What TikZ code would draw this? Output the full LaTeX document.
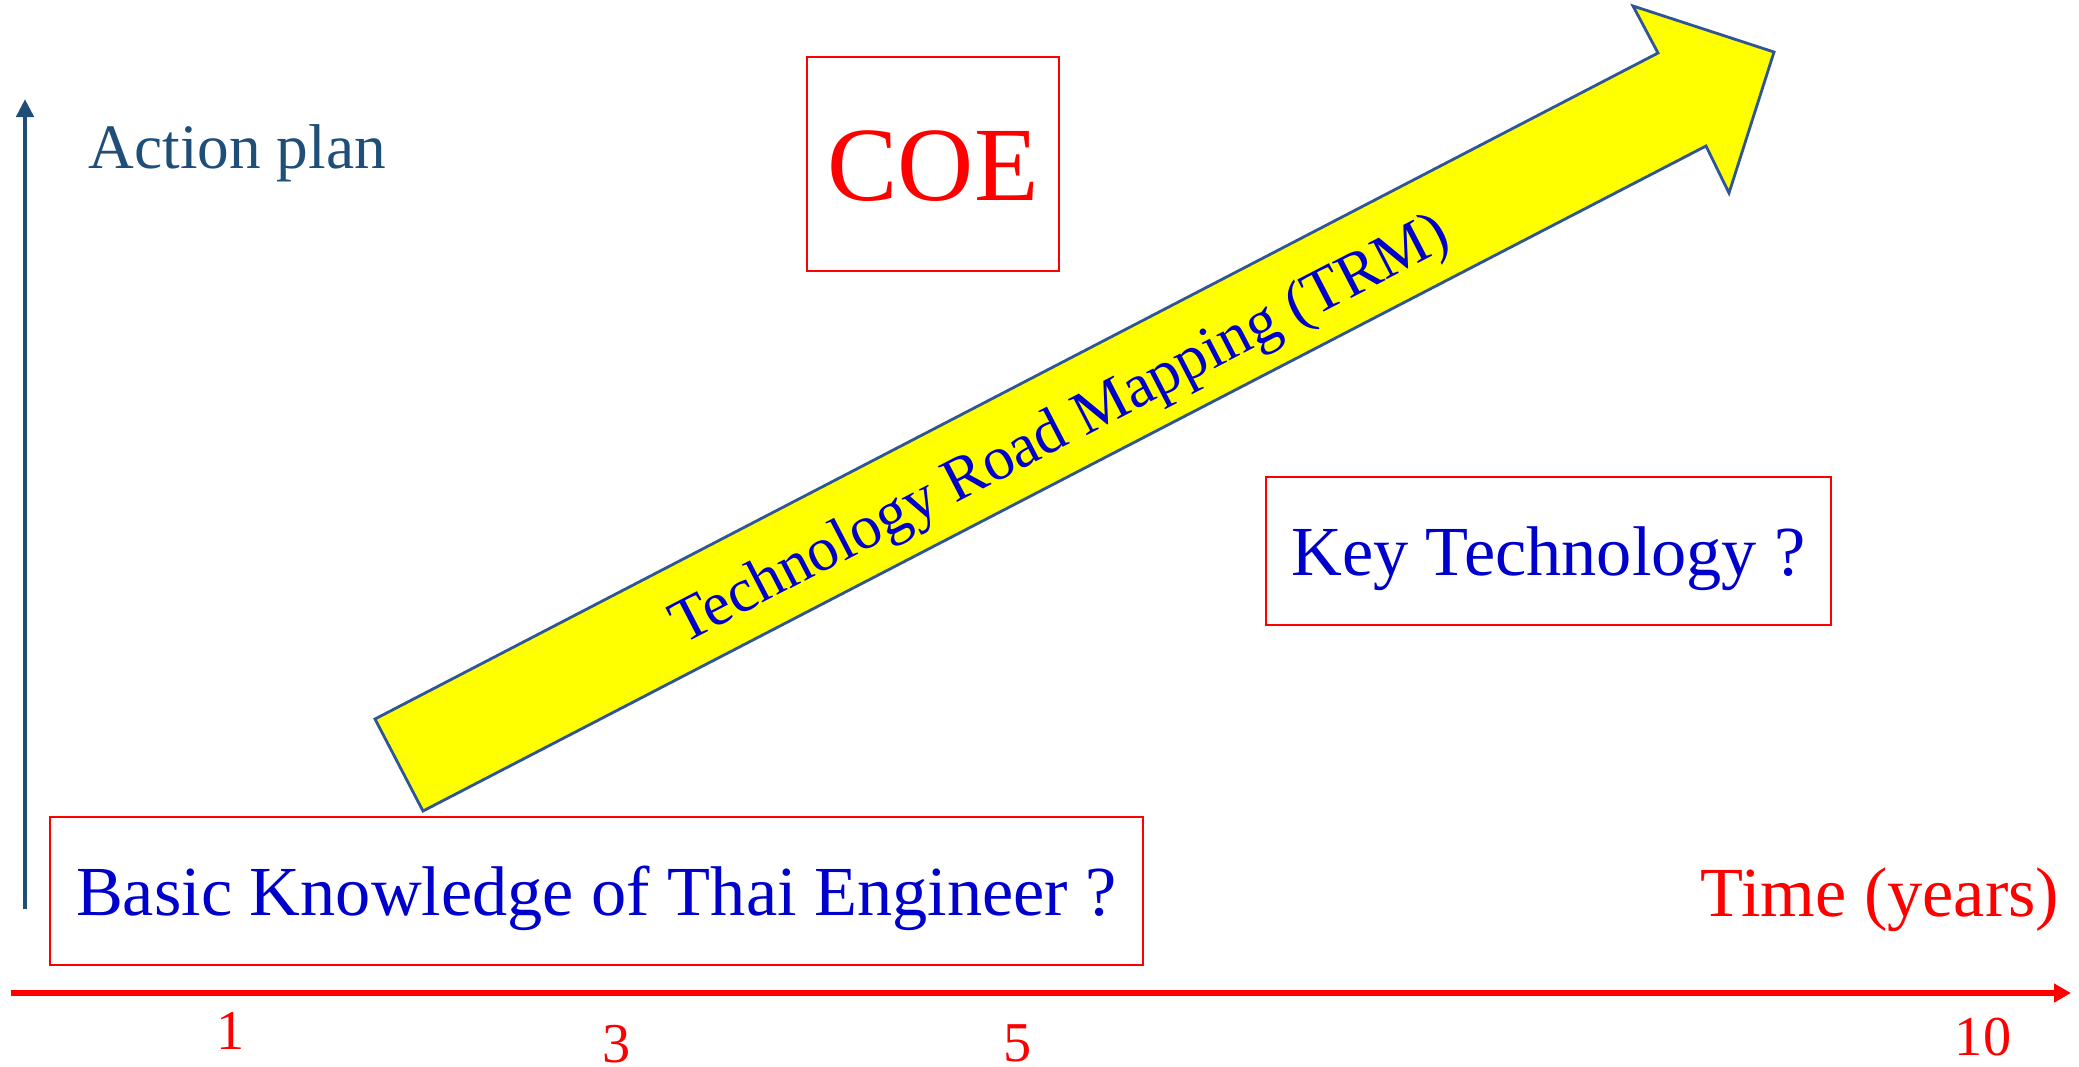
\documentclass[tikz,border=0pt]{standalone}
\usepackage{fontspec}
\setmainfont{Liberation Serif}
\usepackage{tikz}
\usetikzlibrary{arrows.meta}
\definecolor{axeblue}{HTML}{1F4E79}
\definecolor{txtblue}{HTML}{0000CC}
\definecolor{arrowedge}{HTML}{2F5597}
\definecolor{arrowfill}{RGB}{255,255,0}
\newcommand{\tcol}{txtblue}
\newcommand{\rcol}{red}
\newcommand{\acol}{axeblue}

\begin{document}
\begin{tikzpicture}[x=0.01cm, y=-0.01cm,
    boite/.style={draw=\rcol, line width=0.6pt, inner sep=0pt},
    lbl/.style={inner sep=0pt, anchor=base}]

    \useasboundingbox (0,0) rectangle (2079,1066);

    % axes
    \coordinate (o1) at (11,993);
    \coordinate (o2) at (2071,993);
    \coordinate (v1) at (25,909);
    \coordinate (v2) at (25,99);
    \draw[\rcol, line width=1.7pt, -{Triangle[length=0.17cm,width=0.18cm]}] (o1) -- (o2);
    \draw[\acol, line width=1.4pt, -{Triangle[length=0.18cm,width=0.17cm]}] (v1) -- (v2);

    \node[lbl, anchor=base west, \acol, font=\fontsize{18}{22}\selectfont] (plan) at (88,168) {Action plan};
    \node[lbl, \rcol, font=\fontsize{20}{24}\selectfont] (time) at (1880,916) {Time (years)};

    \node[lbl, \rcol, font=\fontsize{16}{19}\selectfont] (y1) at (231,1049) {1};
    \node[lbl, \rcol, font=\fontsize{16}{19}\selectfont] (y3) at (617,1062) {3};
    \node[lbl, \rcol, font=\fontsize{16}{19}\selectfont] (y5) at (1018,1061) {5};
    \node[lbl, \rcol, font=\fontsize{16}{19}\selectfont] (y10) at (1983,1055) {10};

    % la fleche
    \coordinate (a1) at (375,719);
    \coordinate (a2) at (1658,53);
    \coordinate (a3) at (1633,6);
    \coordinate (a4) at (1774,52);
    \coordinate (a5) at (1729,193);
    \coordinate (a6) at (1706,146);
    \coordinate (a7) at (423,811);
    \draw[fill=arrowfill, draw=arrowedge, line width=0.8pt] (a1) -- (a2) -- (a3) -- (a4) -- (a5) -- (a6) -- (a7) -- cycle;
    \node[lbl, rotate=27.4, text=\tcol, font=\fontsize{17.6}{21}\selectfont] (trm) at (1068,445) {Technology Road Mapping (TRM)};

    % boites
    \node[boite, minimum width=2.52cm, minimum height=2.14cm, text height=24.6pt, text depth=3.6pt,
          text=\rcol, font=\fontsize{30}{36}\selectfont] (coe) at (933,164) {COE};
    \node[boite, minimum width=5.65cm, minimum height=1.48cm, text height=16.4pt, text depth=2.2pt,
          text=\tcol, font=\fontsize{20}{24}\selectfont] (key) at (1548.5,551) {Key Technology ?};
    \node[boite, minimum width=10.93cm, minimum height=1.48cm, text height=16.4pt, text depth=2.2pt,
          text=\tcol, font=\fontsize{20}{24}\selectfont] (basic) at (596.5,891) {Basic Knowledge of Thai Engineer ?};

\end{tikzpicture}
\end{document}
